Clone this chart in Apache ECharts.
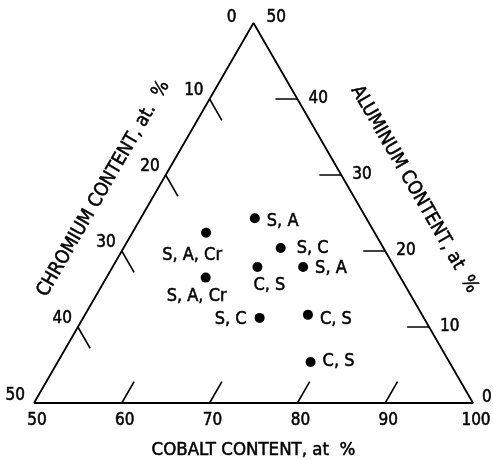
<!DOCTYPE html>
<html><head><meta charset="utf-8">
<script src="https://cdn.jsdelivr.net/npm/echarts@6/dist/echarts.min.js"></script>
<style>html,body{margin:0;padding:0;background:#fff}#c{width:493px;height:460px}</style>
</head><body><div id="c"></div>
<script>
// ---- data ----
const cobaltTicks = [50, 60, 70, 80, 90, 100];
const chromiumTicks = [0, 10, 20, 30, 40, 50];
const aluminumTicks = [0, 10, 20, 30, 40, 50];
const pointCobalt = [63.0, 58.4, 67.9, 66.5, 71.7, 61.3, 70.1, 75.4, 78.8];
const pointAluminum = [24.3, 22.4, 20.4, 17.9, 17.9, 16.5, 11.2, 11.6, 5.4];
const pointLabels = ['S, A', 'S, A, Cr', 'S, C', 'C, S', 'S, A', 'S, A, Cr', 'S, C', 'C, S', 'C, S'];
const axisTitles = ['COBALT CONTENT, at  %', 'CHROMIUM CONTENT, at.  %', 'ALUMINUM CONTENT, at  %'];

// ---- layout ----
const FONT = '"DejaVu Sans Condensed", "Liberation Sans Narrow", "DejaVu Sans", sans-serif';
const H = Math.sqrt(3) / 2;
// ternary (Co, Al) -> cartesian (Cr = 100 - Co - Al)
function xy(co, al) { return [co - 50 + al / 2, al * H]; }
const TICK = 2.8;

const tickLines = [];
cobaltTicks.forEach(co => { if (co > 50 && co < 100) tickLines.push({coords: [xy(co, 0), xy(co, TICK)]}); });
chromiumTicks.forEach(cr => { if (cr > 0 && cr < 50) tickLines.push({coords: [xy(50, 50 - cr), xy(50 + TICK, 50 - cr - TICK)]}); });
aluminumTicks.forEach(al => { if (al > 0 && al < 50) tickLines.push({coords: [xy(100 - al, al), xy(100 - al - 2.5, al)]}); });

const tickLabelData = [];
cobaltTicks.forEach(co => tickLabelData.push({value: xy(co, 0), label: {formatter: String(co), offset: [3, 18], align: 'center'}}));
chromiumTicks.forEach(cr => {
  let lab = {formatter: String(cr), offset: [-6, -8], align: 'right'};
  if (cr === 0) lab = {formatter: '0', offset: [-17, -5], align: 'right'};
  if (cr === 50) lab = {formatter: '50', offset: [-9, -7], align: 'right'};
  tickLabelData.push({value: xy(50, 50 - cr), label: lab});
});
aluminumTicks.forEach(al => {
  let lab = {formatter: String(al), offset: [11, 0], align: 'left'};
  if (al === 50) lab = {formatter: '50', offset: [13, -5], align: 'left'};
  if (al === 0) lab = {formatter: '0', offset: [9, -5], align: 'left'};
  tickLabelData.push({value: xy(100 - al, al), label: lab});
});

const labelPlacement = [
  {offset: [12, 3], align: 'left'},
  {offset: [-14, 23], align: 'center'},
  {offset: [16, 0], align: 'left'},
  {offset: [12, 18], align: 'center'},
  {offset: [12, 1], align: 'left'},
  {offset: [-9, 19], align: 'center'},
  {offset: [-13, 1], align: 'right'},
  {offset: [12, 4], align: 'left'},
  {offset: [12, -1], align: 'left'}
];
const pointData = pointCobalt.map((co, i) => ({
  value: xy(co, pointAluminum[i]),
  label: Object.assign({formatter: pointLabels[i]}, labelPlacement[i])
}));

// offsets of rotated labels are in the label's rotated frame
const titleData = [
  {value: xy(75, 0), label: {formatter: axisTitles[0], offset: [0, 47], rotate: 0, fontSize: 18.5}},
  {value: xy(50, 25), label: {formatter: axisTitles[1], offset: [1, -47], rotate: 60, fontSize: 19}},
  {value: xy(75, 25), label: {formatter: axisTitles[2], offset: [5, -56], rotate: -60, fontSize: 19}}
];

const textStyle = {show: true, position: 'inside', color: '#000', fontFamily: FONT, verticalAlign: 'middle',
  textBorderColor: '#000', textBorderWidth: 0.5, opacity: 1};

const chart = echarts.init(document.getElementById('c'), null, {renderer: 'canvas'});
chart.setOption({
  animation: false,
  backgroundColor: '#fff',
  grid: {left: 34, right: 20, top: 23, bottom: 57},
  xAxis: {type: 'value', min: 0, max: 50, show: false},
  yAxis: {type: 'value', min: 0, max: 50 * H, show: false},
  series: [
    {type: 'line', data: [xy(50, 0), xy(100, 0), xy(50, 50), xy(50, 0)], symbol: 'none',
     lineStyle: {color: '#000', width: 1.8}, silent: true},
    {type: 'lines', coordinateSystem: 'cartesian2d', data: tickLines,
     lineStyle: {color: '#000', width: 1.6, opacity: 1}, silent: true},
    {type: 'scatter', data: pointData, symbolSize: 10, itemStyle: {color: '#000', opacity: 1},
     label: Object.assign({}, textStyle, {fontSize: 18})},
    {type: 'scatter', data: tickLabelData, symbolSize: 0, itemStyle: {opacity: 1},
     label: Object.assign({}, textStyle, {fontSize: 17})},
    {type: 'scatter', data: titleData, symbolSize: 0, itemStyle: {opacity: 1},
     label: Object.assign({}, textStyle, {align: 'center'})}
  ]
});
</script></body></html>
